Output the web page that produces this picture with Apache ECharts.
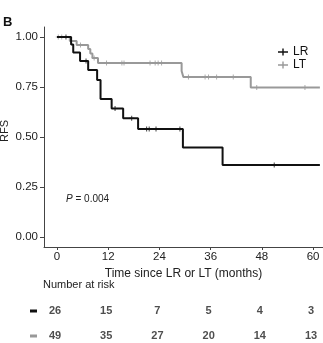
<!DOCTYPE html>
<html>
<head>
<meta charset="utf-8">
<script src="https://cdn.jsdelivr.net/npm/echarts@6/dist/echarts.min.js"></script>
<style>
  html, body { margin: 0; padding: 0; background: #fff; }
  #chart { width: 323px; height: 343px; }
</style>
</head>
<body>
<div id="chart"></div>
<script>
// Kaplan–Meier step curves (time in months, survival proportion)
const lrTimes = [0, 3.3, 3.8, 5.4, 7.3, 9.4, 10.2, 12.8, 15.5, 19.0, 29.5, 38.8, 61.6];
const lrSurv  = [1, 0.962, 0.923, 0.88, 0.835, 0.785, 0.69, 0.643, 0.594, 0.54, 0.448, 0.36, 0.36];
const lrCensor = [2.1, 6.8, 13.6, 17.5, 21.0, 21.6, 23.2, 28.8, 50.9];

const ltTimes = [0, 3.0, 4.6, 7.3, 7.8, 8.3, 9.6, 29.2, 29.6, 45.4, 61.6];
const ltSurv  = [1, 0.98, 0.96, 0.94, 0.918, 0.895, 0.87, 0.83, 0.80, 0.748, 0.748];
const ltCensor = [0.3, 1.1, 5.5, 8.7, 11.6, 15.2, 15.7, 21.8, 23.0, 23.7, 24.5,
                  30.8, 34.7, 35.5, 37.4, 41.3, 46.8, 58.1];

// Number-at-risk table
const riskTimes = [0, 12, 24, 36, 48, 60];
const lrRisk = [26, 15, 7, 5, 4, 3];
const ltRisk = [49, 35, 27, 20, 14, 13];

const yTicks = [0, 0.25, 0.5, 0.75, 1];
const xTicks = [0, 12, 24, 36, 48, 60];

const LR_COLOR = '#111111';
const LT_COLOR = '#999999';
const FONT = 'Liberation Sans, Arial, sans-serif';

function survAt(times, surv, t) {
  let s = surv[0];
  for (let i = 0; i < times.length; i++) {
    if (times[i] <= t) s = surv[i];
  }
  return s;
}
const pairs = (times, surv) => times.map((t, i) => [t, surv[i]]);
const censorPts = (cens, times, surv) => cens.map(t => [t, survAt(times, surv, t)]);

const PLUS = 'path://M2,0 L3,0 L3,5 L2,5 Z M0,2 L5,2 L5,3 L0,3 Z';
const LEGEND_ICON = 'path://M0,3.2 L10,3.2 L10,4.8 L0,4.8 Z M4.3,0.5 L5.7,0.5 L5.7,7.5 L4.3,7.5 Z';

const chart = echarts.init(document.getElementById('chart'), null, { renderer: 'canvas' });

const axisLineStyle = { color: '#444', width: 1 };

chart.setOption({
  animation: false,
  backgroundColor: '#fff',
  textStyle: { fontFamily: FONT },
  grid: [
    { left: 44, top: 27, width: 279, height: 220, containLabel: false },
    // risk table rows: row 1 (LR) and row 2 (LT) on a 0..2 value scale
    { left: 44, top: 286, width: 279, height: 50, containLabel: false }
  ],
  xAxis: [
    {
      gridIndex: 0, type: 'value', min: -3.05, max: 62.33,
      name: 'Time since LR or LT (months)', nameLocation: 'middle', nameGap: 18,
      nameTextStyle: { fontSize: 12, color: '#222', fontFamily: FONT },
      axisLine: { show: true, onZero: false, lineStyle: axisLineStyle },
      axisTick: { show: true, length: 3, customValues: xTicks, lineStyle: axisLineStyle },
      axisLabel: { customValues: xTicks, margin: 4, fontSize: 11.5, color: '#222', fontFamily: FONT },
      splitLine: { show: false }
    },
    {
      gridIndex: 1, type: 'value', min: -3.05, max: 62.33,
      show: false
    }
  ],
  yAxis: [
    {
      gridIndex: 0, type: 'value', min: -0.05, max: 1.05,
      axisLine: { show: true, onZero: false, lineStyle: axisLineStyle },
      axisTick: { show: true, length: 4, customValues: yTicks, lineStyle: axisLineStyle },
      axisLabel: {
        customValues: yTicks, margin: 6, fontSize: 11.5, color: '#222', fontFamily: FONT,
        formatter: v => v.toFixed(2)
      },
      splitLine: { show: false }
    },
    {
      gridIndex: 1, type: 'value', min: 0, max: 2, inverse: true,
      axisLine: { show: false, onZero: false }, axisTick: { show: false }, splitLine: { show: false },
      axisLabel: {
        customValues: [1, 2], margin: 7,
        formatter: v => v === 1 ? '{lr|}' : '{lt|}',
        rich: {
          lr: { width: 7, height: 3, backgroundColor: LR_COLOR },
          lt: { width: 7, height: 3, backgroundColor: LT_COLOR }
        }
      }
    }
  ],
  legend: {
    data: [
      { name: 'LR', icon: LEGEND_ICON },
      { name: 'LT', icon: LEGEND_ICON }
    ],
    orient: 'vertical', left: 278, top: 46, padding: 0,
    itemWidth: 10, itemHeight: 8, itemGap: 1,
    textStyle: { fontSize: 12, color: '#111', fontFamily: FONT, lineHeight: 10 },
    selectedMode: false
  },
  graphic: [
    { type: 'text', left: 3, top: 16, style: { text: 'B', font: 'bold 13px ' + FONT, fill: '#111' } },
    {
      type: 'text', x: 5, y: 131, rotation: Math.PI / 2,
      style: { text: 'RFS', font: '11px ' + FONT, fill: '#222', align: 'center', verticalAlign: 'middle' }
    },
    {
      type: 'text', left: 66, top: 194,
      style: {
        text: '{i|P} = 0.004',
        rich: { i: { fontStyle: 'italic', fontSize: 10, fontFamily: FONT, fill: '#222' } },
        font: '10px ' + FONT, fill: '#222'
      }
    },
    { type: 'text', left: 43, top: 279, style: { text: 'Number at risk', font: '11px ' + FONT, fill: '#222' } }
  ],
  series: [
    {
      name: 'LT', type: 'line', step: 'end', xAxisIndex: 0, yAxisIndex: 0,
      data: pairs(ltTimes, ltSurv), showSymbol: false, symbol: 'none',
      color: LT_COLOR, lineStyle: { color: LT_COLOR, width: 2 }, z: 2
    },
    {
      name: 'LT censored', type: 'scatter', xAxisIndex: 0, yAxisIndex: 0,
      data: censorPts(ltCensor, ltTimes, ltSurv), symbol: PLUS, symbolSize: 5,
      itemStyle: { color: LT_COLOR }, z: 3
    },
    {
      name: 'LR', type: 'line', step: 'end', xAxisIndex: 0, yAxisIndex: 0,
      data: pairs(lrTimes, lrSurv), showSymbol: false, symbol: 'none',
      color: LR_COLOR, lineStyle: { color: LR_COLOR, width: 2 }, z: 4
    },
    {
      name: 'LR censored', type: 'scatter', xAxisIndex: 0, yAxisIndex: 0,
      data: censorPts(lrCensor, lrTimes, lrSurv), symbol: PLUS, symbolSize: 5,
      itemStyle: { color: LR_COLOR }, z: 5
    },
    {
      name: 'risk', type: 'scatter', xAxisIndex: 1, yAxisIndex: 1,
      symbolSize: 0, silent: true,
      data: riskTimes.map((t, i) => [t, 1, lrRisk[i]])
        .concat(riskTimes.map((t, i) => [t, 2, ltRisk[i]])),
      label: {
        show: true, position: 'inside', offset: [-2, 0],
        formatter: p => String(p.data[2]),
        fontSize: 11, fontWeight: 'bold', color: '#222', fontFamily: FONT
      }
    }
  ]
});
</script>
</body>
</html>
